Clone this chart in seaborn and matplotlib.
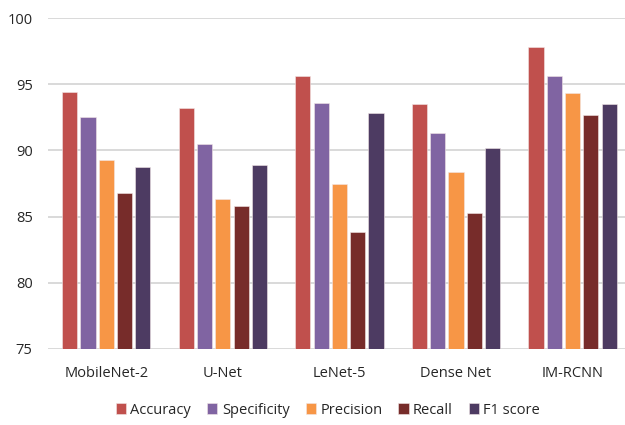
import numpy as np
import pandas as pd
import matplotlib
matplotlib.use("Agg")
import matplotlib.pyplot as plt
import seaborn as sns

# Model names and metric values (%)
models = ["MobileNet-2", "U-Net", "LeNet-5", "Dense Net", "IM-RCNN"]
metrics = ["Accuracy", "Specificity", "Precision", "Recall", "F1 score"]
accuracy = [94.4, 93.2, 95.6, 93.5, 97.8]
specificity = [92.5, 90.5, 93.6, 91.3, 95.6]
precision = [89.3, 86.3, 87.5, 88.4, 94.3]
recall = [86.8, 85.8, 83.8, 85.3, 92.7]
f1_score = [88.75, 88.9, 92.8, 90.2, 93.5]
y_ticks = [75, 80, 85, 90, 95, 100]

colors = ["#C0504D", "#8064A2", "#F79646", "#772C2A", "#4D3B62"]

series = [accuracy, specificity, precision, recall, f1_score]
df = pd.DataFrame({
    "Model": np.repeat([models], len(metrics), axis=0).ravel(),
    "Metric": np.repeat(metrics, len(models)),
    "Value": np.concatenate(series),
})

sns.set_theme(style="white")
plt.rcParams["font.family"] = ["Open Sans", "DejaVu Sans"]

fig = plt.figure(figsize=(6.25, 4.25), dpi=100)
ax = fig.add_axes([48 / 625, 1 - 349 / 425, 577 / 625, 331 / 425])

sns.barplot(data=df, x="Model", y="Value", hue="Metric", order=models,
            hue_order=metrics, palette=colors, saturation=1, width=0.785,
            gap=0.17, edgecolor="#F2E6E6", linewidth=0.4, ax=ax, legend=True)

ax.set_ylim(75, 100)
ax.set_xlim(-0.5, 4.45)
ax.set_yticks(y_ticks)
ax.yaxis.grid(True, color="#D9D9D9", linewidth=1.4)
ax.set_axisbelow(True)
for s in ["top", "right", "left", "bottom"]:
    ax.spines[s].set_visible(False)
ax.tick_params(axis="both", length=0, labelsize=10.5, colors="#262626")
ax.tick_params(axis="y", pad=11)
ax.tick_params(axis="x", pad=12)
ax.set_xlabel("")
ax.set_ylabel("")

handles, labels = ax.get_legend_handles_labels()
ax.legend(handles, labels, loc="center", bbox_to_anchor=(328 / 625, 1 - 410 / 425),
          bbox_transform=fig.transFigure, ncol=5, frameon=False,
          handlelength=0.7, handleheight=0.7, handletextpad=0.3,
          columnspacing=1.1, fontsize=10.5, labelcolor="#262626")

fig.savefig("out.png", dpi=100)
